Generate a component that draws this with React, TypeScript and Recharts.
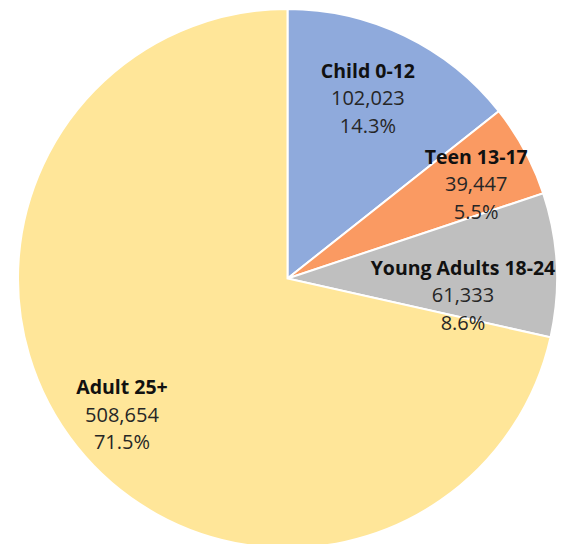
import React from "react";
import { PieChart, Pie, Cell } from "recharts";

const categories = ["Child 0-12", "Teen 13-17", "Young Adults 18-24", "Adult 25+"];
const values = [102023, 39447, 61333, 508654];
const colors = ["#8FAADC", "#FA9A62", "#BFBFBF", "#FFE699"];
// label placement tweaks (angle offset in degrees, radius fraction)
const labelAngleOffsets = [1.8, -1.8, -8.3, 0.8];
const labelRadiusFractions = [0.733, 0.783, 0.654, 0.796];

const data = categories.map((name, i) => ({ name, value: values[i] }));
const total = values.reduce((a, b) => a + b, 0);

const RAD = Math.PI / 180;

const renderLabel = (props: any) => {
  const { cx, cy, midAngle, outerRadius, index } = props;
  const a = midAngle + labelAngleOffsets[index];
  const r = outerRadius * labelRadiusFractions[index];
  const x = cx + r * Math.cos(-a * RAD);
  const y = cy + r * Math.sin(-a * RAD);
  const pct = ((values[index] / total) * 100).toFixed(1) + "%";
  return (
    <text
      x={x}
      y={y}
      textAnchor="middle"
      fontFamily="'Open Sans', 'Noto Sans', sans-serif"
      fontSize={20}
      fill="#262626"
    >
      <tspan x={x} dy={-27.5 + 7} fontWeight="bold" fontSize={19.5} fill="#111111">
        {categories[index]}
      </tspan>
      <tspan x={x} dy={27.5}>
        {values[index].toLocaleString("en-US")}
      </tspan>
      <tspan x={x} dy={27.5}>
        {pct}
      </tspan>
    </text>
  );
};

export default function App() {
  return (
    <div style={{ position: "fixed", left: 0, top: 0, width: 572, height: 544, background: "#fff" }}>
      <PieChart width={572} height={544} margin={{ top: 0, right: 0, bottom: 0, left: 0 }}>
        <Pie
          data={data}
          dataKey="value"
          nameKey="name"
          cx={287.5}
          cy={278.5}
          outerRadius={269.5}
          startAngle={90}
          endAngle={-270}
          stroke="#ffffff"
          strokeWidth={2}
          label={renderLabel}
          labelLine={false}
          isAnimationActive={false}
        >
          {data.map((d, i) => (
            <Cell key={d.name} fill={colors[i]} />
          ))}
        </Pie>
      </PieChart>
    </div>
  );
}
